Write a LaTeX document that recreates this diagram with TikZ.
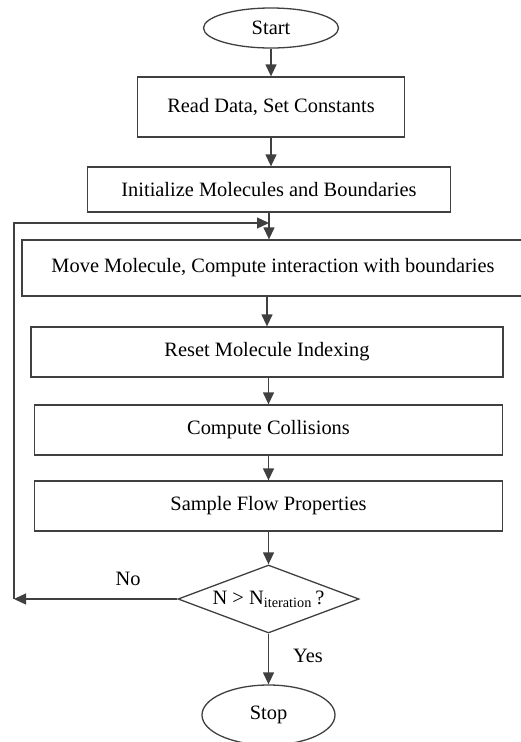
\documentclass[tikz,border=0pt]{standalone}
\usepackage{fontspec}
\setmainfont{Liberation Serif}
\usetikzlibrary{arrows.meta,shapes.geometric}
\begin{document}
\begin{tikzpicture}[x=1pt,y=-1pt,
  every node/.style={font=\fontsize{20.4}{24}\selectfont, text=black},
  line/.style={draw=black!75, line width=1.3pt},
  procbox/.style={line, rectangle, inner sep=0pt},
  term/.style={line, ellipse, inner sep=0pt},
  decide/.style={line, diamond, inner sep=0pt, aspect=2.66},
  arr/.style={line, -{Triangle[length=12pt,width=11pt]}},
  lbl/.style={inner sep=0pt}]
\useasboundingbox (0,0) rectangle (521,742);

% flow chart nodes
\node[term, minimum width=135, minimum height=40] (start) at (271,28) {Start};
\node[procbox, minimum width=267, minimum height=60] (read) at (271,107) {Read Data, Set Constants};
\node[procbox, minimum width=363, minimum height=45] (init) at (269,189.5) {Initialize Molecules and Boundaries};
\node[procbox, minimum width=502, minimum height=56] (move) at (273,268) {Move Molecule, Compute interaction with boundaries};
\node[procbox, minimum width=472, minimum height=50] (reset) at (267,352) {Reset Molecule Indexing};
\node[procbox, minimum width=468, minimum height=50] (coll) at (268.5,430) {Compute Collisions};
\node[procbox, minimum width=468, minimum height=50] (sample) at (268.5,506) {Sample Flow Properties};
\node[decide, minimum width=181, minimum height=68] (dec) at (268.5,599)
  {N > N\textsubscript{iteration}\,?};
\node[term, minimum width=133, minimum height=60] (stop) at (268.5,715) {Stop};

% branch labels
\node[lbl] (no) at (128,579) {No};
\node[lbl] (yes) at (308,656) {Yes};

% loop-back corners
\coordinate (cL) at (14,599);
\coordinate (cT) at (269,223);

% main flow
\draw[arr] (start) -- (start |- read.north);
\draw[arr] (start |- read.south) -- (start |- init.north);
\draw[arr] (init) -- (init |- move.north);
\draw[arr] (reset |- move.south) -- (reset);
\draw[arr] (coll |- reset.south) -- (coll);
\draw[arr] (coll) -- (sample);
\draw[arr] (sample) -- (dec);
\draw[arr] (dec) -- (stop);

% "No" branch returns to the top of the loop
\draw[arr] (dec.west) -- (cL);
\draw[arr] (cL) |- (cT);
\end{tikzpicture}
\end{document}
